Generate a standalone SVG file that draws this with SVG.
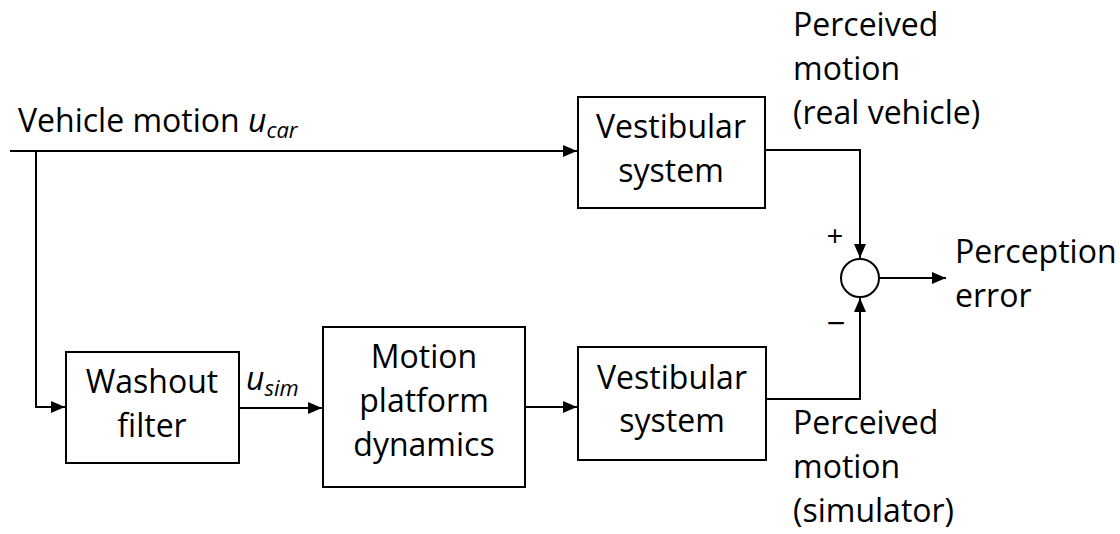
<svg xmlns="http://www.w3.org/2000/svg" width="1120" height="534" viewBox="0 0 1120 534">
<style>
text{font-family:"Open Sans","Liberation Sans",sans-serif;font-size:32px;fill:#000}
.c{text-anchor:middle}
.i{font-style:italic}
.sub{font-size:22px;font-style:italic}
.sg{text-anchor:middle;font-family:"Liberation Sans",sans-serif}
rect,circle{fill:#fff;stroke:#000;stroke-width:2}
.ln{fill:none;stroke:#000;stroke-width:2}
</style>
<defs>
<marker id="ah" viewBox="0 0 14 12" refX="14" refY="6" markerWidth="14" markerHeight="12" markerUnits="userSpaceOnUse" orient="auto">
<path d="M0,0 L14,6 L0,12 z" fill="#000"/>
</marker>
</defs>
<g id="connectors">
<path class="ln" d="M10,151 H577" marker-end="url(#ah)"/>
<path class="ln" d="M36,151 V407 H65" marker-end="url(#ah)"/>
<path class="ln" d="M240,408 H322" marker-end="url(#ah)"/>
<path class="ln" d="M526,407 H577" marker-end="url(#ah)"/>
<path class="ln" d="M766,150 H860 V258" marker-end="url(#ah)"/>
<path class="ln" d="M767,399 H860 V298" marker-end="url(#ah)"/>
<path class="ln" d="M880,278 H946" marker-end="url(#ah)"/>
</g>
<g id="input-label">
<text x="18" y="132">Vehicle motion <tspan class="i">u</tspan><tspan class="sub" dy="6">car</tspan></text>
</g>
<g id="vestibular-top">
<rect x="578" y="97" width="187" height="111"/>
<text class="c" x="671" y="138">Vestibular</text>
<text class="c" x="671" y="182">system</text>
</g>
<g id="perceived-real">
<text x="793" y="36">Perceived</text>
<text x="793" y="80">motion</text>
<text x="793" y="124">(real vehicle)</text>
</g>
<g id="sum">
<circle cx="860" cy="278" r="19"/>
<text class="sg" x="835" y="245" style="font-size:28px">+</text>
<text class="sg" x="836" y="334" style="font-size:32px">−</text>
</g>
<g id="perception-error">
<text x="955" y="263">Perception</text>
<text x="955" y="307">error</text>
</g>
<g id="washout">
<rect x="66" y="352" width="173" height="111"/>
<text class="c" x="152" y="393">Washout</text>
<text class="c" x="152" y="437">filter</text>
</g>
<g id="u-sim">
<text x="246" y="390"><tspan class="i">u</tspan><tspan class="sub" dy="6">sim</tspan></text>
</g>
<g id="motion-platform">
<rect x="323" y="327" width="202" height="160"/>
<text class="c" x="424" y="368">Motion</text>
<text class="c" x="424" y="412">platform</text>
<text class="c" x="424" y="456">dynamics</text>
</g>
<g id="vestibular-bottom">
<rect x="578" y="347" width="188" height="113"/>
<text class="c" x="672" y="389">Vestibular</text>
<text class="c" x="672" y="432">system</text>
</g>
<g id="perceived-sim">
<text x="793" y="434">Perceived</text>
<text x="793" y="478">motion</text>
<text x="793" y="522">(simulator)</text>
</g>
</svg>
